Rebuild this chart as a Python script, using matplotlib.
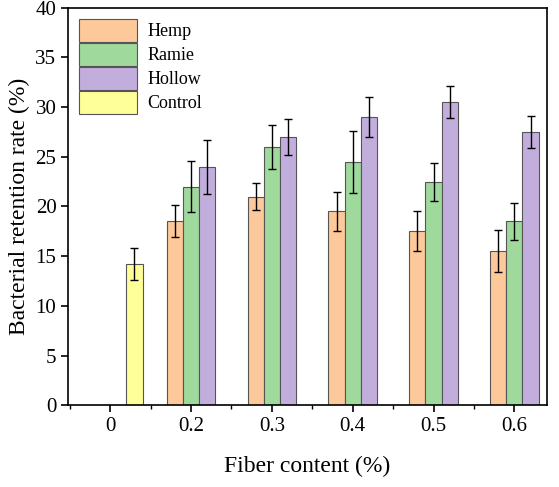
import matplotlib
matplotlib.use("Agg")
import matplotlib.pyplot as plt
import numpy as np
from matplotlib.ticker import MultipleLocator

plt.rcParams['font.family'] = ['Liberation Serif']

labels = ['0', '0.2', '0.3', '0.4', '0.5', '0.6']
hemp = [18.5, 21, 19.5, 17.5, 15.5]
hemp_err = [1.6, 1.4, 2.0, 2.0, 2.1]
ramie = [22, 26, 24.5, 22.5, 18.5]
ramie_err = [2.6, 2.2, 3.1, 1.9, 1.9]
hollow = [24, 27, 29, 30.5, 27.5]
hollow_err = [2.7, 1.8, 2.0, 1.6, 1.6]
control = [14.2]
control_err = [1.6]

fig = plt.figure(figsize=(5.59, 4.87), dpi=100)
ax = fig.add_axes([0.122, 0.168, 0.856, 0.816])
w = 0.2
x = np.arange(1, 6)
ek = dict(ecolor='black', capsize=3, elinewidth=1, capthick=1)
ax.bar(x - w, hemp, w, yerr=hemp_err, color='#FDC89A', edgecolor='#555555', lw=0.8, label='Hemp', error_kw=ek)
ax.bar(x, ramie, w, yerr=ramie_err, color='#A0D99C', edgecolor='#555555', lw=0.8, label='Ramie', error_kw=ek)
ax.bar(x + w, hollow, w, yerr=hollow_err, color='#C2AEDD', edgecolor='#555555', lw=0.8, label='Hollow', error_kw=ek)
ax.bar([0.3], control, w, yerr=control_err, color='#FFFF99', edgecolor='#555555', lw=0.8, label='Control', error_kw=ek)

ax.set_xlim(-0.52, 5.4)
ax.set_ylim(0, 40)
ax.set_xticks(range(6))
ax.set_xticklabels(labels)
ax.xaxis.set_minor_locator(MultipleLocator(0.5))
ax.yaxis.set_major_locator(MultipleLocator(5))
ax.tick_params(labelsize=15, width=1.2, length=5)
ax.tick_params(which='minor', length=3, width=1)
for s in ax.spines.values():
    s.set_linewidth(1.2)
ax.set_xlabel('Fiber content (%)', fontsize=17, labelpad=14)
ax.set_ylabel('Bacterial retention rate (%)', fontsize=17)
ax.legend(loc='upper left', fontsize=13, frameon=False, handlelength=3.2, handleheight=1.6,
          borderaxespad=0.2, labelspacing=0.05, handletextpad=0.6)
fig.savefig('out.png', dpi=100)
